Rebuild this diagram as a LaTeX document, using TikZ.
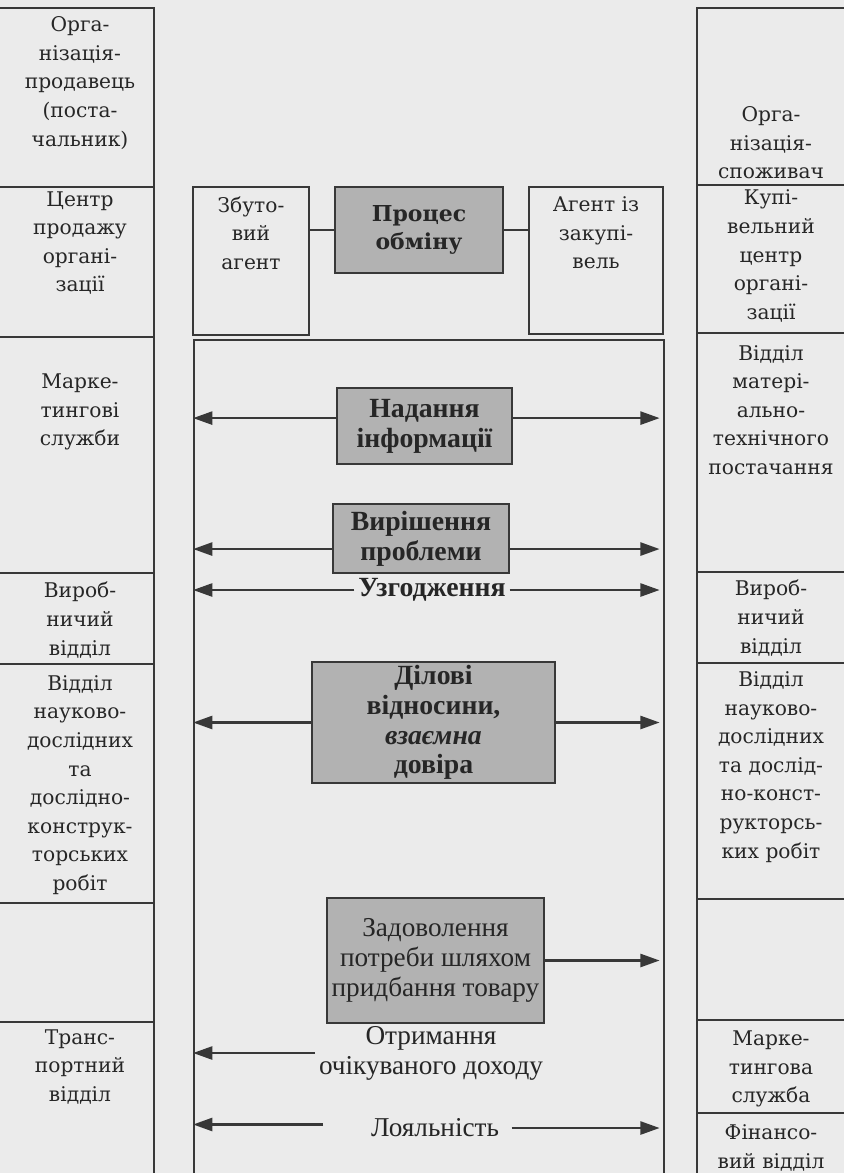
\documentclass[tikz,border=0pt]{standalone}
\usepackage{fontspec}
\setmainfont{DejaVu Serif}
\newfontfamily\tnr{Liberation Serif}
\usetikzlibrary{arrows.meta,positioning,fit}

\begin{document}
\begin{tikzpicture}[
    x=0.02cm, y=-0.02cm,
    every node/.style={text=black!85},
    cell/.style={draw=black!78, line width=1pt, inner sep=0pt},
    side/.style={align=center, inner sep=1pt, font=\fontsize{11.5}{16.3}\selectfont},
    hub/.style={cell, fill=black!30, align=center, font=\tnr\bfseries\fontsize{15.8}{17}\selectfont},
    note/.style={align=center, inner sep=2pt, font=\tnr\fontsize{15.5}{17}\selectfont},
    link/.style={draw=black!78, line width=1pt},
    arrow/.style={-{Triangle[length=11pt,width=7.5pt]}, draw=black!78, line width=1.3pt}
  ]
  \useasboundingbox (0,0) rectangle (844,1173);
  \clip (0,0) rectangle (844,1173);
  \fill[black!8] (0,0) rectangle (844,1173);

  % side columns
  \foreach \a/\b [count=\i] in {8/187,187/337,337/573,573/664,664/903,903/1022,1022/1200}
    \node[cell, fit={(-5,\a) (154,\b)}] (l\i) {};
  \foreach \a/\b [count=\i] in {8/185,185/333,333/572,572/663,663/899,899/1020,1020/1113,1113/1200}
    \node[cell, fit={(697,\a) (850,\b)}] (r\i) {};

  \node[side] (seller) at (80,83) {Орга-\\нізація-\\продавець\\(поста-\\чальник)};
  \node[side] (salescentre) at (80,243) {Центр\\продажу\\органі-\\зації};
  \node[side] (marketing) at (80,412) {Марке-\\тингові\\служби};
  \node[side] (production) at (80,620) {Вироб-\\ничий\\відділ};
  \node[side] (research) at (80,785) {Відділ\\науково-\\дослідних\\та\\дослідно-\\конструк-\\торських\\робіт};
  \node[side] (transport) at (80,1067) {Транс-\\портний\\відділ};

  \node[side] (buyer) at (771,143) {Орга-\\нізація-\\споживач};
  \node[side] (buycentre) at (771,256) {Купі-\\вельний\\центр\\органі-\\зації};
  \node[side] (supply) at (771,410) {Відділ\\матері-\\ально-\\технічного\\постачання};
  \node[side] (bproduction) at (771,618) {Вироб-\\ничий\\відділ};
  \node[side] (bresearch) at (771,767) {Відділ\\науково-\\дослідних\\та дослід-\\но-конст-\\рукторсь-\\ких робіт};
  \node[side] (bmarketing) at (771,1069) {Марке-\\тингова\\служба};
  \node[side] (finance) at (771,1148) {Фінансо-\\вий відділ};

  % exchange row
  \node[cell, fit={(193,187) (309,335)}] (sagent) {};
  \node[side] (sagenttext) at (251,233) {Збуто-\\вий\\агент};
  \node[cell, fill=black!30, align=center, font=\bfseries\fontsize{12.5}{15.5}\selectfont,
        minimum width=3.36cm, minimum height=1.72cm] (exch) at (419,230) {Процес\\обміну};
  \node[cell, fit={(529,187) (663,334)}] (bagent) {};
  \node[side] (bagenttext) at (596,233) {Агент із\\закупі-\\вель};
  \draw[link] (exch.west -| sagent.east) -- (exch.west);
  \draw[link] (exch.east) -- (exch.east -| bagent.west);

  \node[cell, fit={(194,340) (664,1200)}] (frame) {};

  % relations
  \node[hub, minimum width=3.5cm, minimum height=1.52cm] (info) at (424.5,426) {Надання\\інформації};
  \node[hub, minimum width=3.52cm, minimum height=1.38cm] (solve) at (421,538.5) {Вирішення\\проблеми};
  \node[note, font=\tnr\bfseries\fontsize{15.8}{17}\selectfont] (agree) at (432,590) {Узгодження};
  \node[hub, minimum width=4.86cm, minimum height=2.42cm] (trust) at (433.5,722.5) {Ділові\\відносини,\\\textit{взаємна}\\довіра};
  \node[hub, font=\tnr\fontsize{15.5}{17}\selectfont, minimum width=4.34cm, minimum height=2.5cm] (need) at (435.5,960.5) {Задоволення\\потреби шляхом\\придбання товару};
  \node[note] (income) at (431,1053) {Отримання\\очікуваного доходу};
  \node[note] (loyal) at (435,1128) {Лояльність};

  \coordinate (infoy) at ([yshift=4.5pt]info.center);
  \coordinate (solvey) at ([yshift=-6pt]solve.center);
  \coordinate (loyall) at ([xshift=-25pt,yshift=2pt]loyal.west);
  \coordinate (loyalr) at ([xshift=5pt]loyal.east);

  \draw[arrow] (infoy -| info.west) -- (infoy -| frame.west);
  \draw[arrow, shorten >=3pt] (infoy -| info.east) -- (infoy -| frame.east);
  \draw[arrow] (solvey -| solve.west) -- (solvey -| frame.west);
  \draw[arrow, shorten >=3pt] (solvey -| solve.east) -- (solvey -| frame.east);
  \draw[arrow] (agree) -- (agree -| frame.west);
  \draw[arrow, shorten >=3pt] (agree) -- (agree -| frame.east);
  \draw[arrow] (trust) -- (trust -| frame.west);
  \draw[arrow, shorten >=3pt] (trust) -- (trust -| frame.east);
  \draw[arrow, shorten >=3pt] (need) -- (need -| frame.east);
  \draw[arrow] (income) -- (income -| frame.west);
  \draw[arrow] (loyall) -- (loyall -| frame.west);
  \draw[arrow, shorten >=3pt] (loyalr) -- (loyalr -| frame.east);
\end{tikzpicture}
\end{document}
